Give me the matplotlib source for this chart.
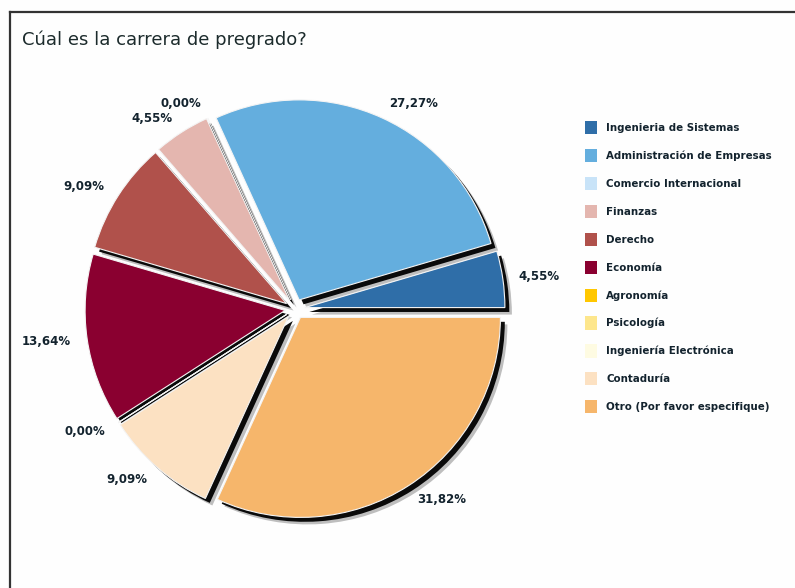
import numpy as np
import matplotlib.pyplot as plt
from matplotlib.patches import Patch
from matplotlib.lines import Line2D

title = "Cúal es la carrera de pregrado?"
categories = [
    "Ingenieria de Sistemas",
    "Administración de Empresas",
    "Comercio Internacional",
    "Finanzas",
    "Derecho",
    "Economía",
    "Agronomía",
    "Psicología",
    "Ingeniería Electrónica",
    "Contaduría",
    "Otro (Por favor especifique)",
]
percentages = [4.55, 27.27, 0.00, 4.55, 9.09, 13.64, 0.00, 0.00, 0.00, 9.09, 31.82]
colors = [
    "#2F6EA8", "#64AEDE", "#C8E3F8", "#E4B6AF", "#B0514B", "#8A0030",
    "#FFC700", "#FDE68C", "#FEFBE2", "#FCE1C2", "#F6B66B",
]

text_color = "#13232e"

W, H = 795, 588
fig = plt.figure(figsize=(W / 100, H / 100), dpi=100)
fig.patch.set_facecolor("#fefefe")

# frame lines along the top and left edges
fig.add_artist(Line2D([10 / W, 10 / W], [0, 1 - 12 / H], color="#333333", lw=1.6))
fig.add_artist(Line2D([10 / W, 1], [1 - 12 / H, 1 - 12 / H], color="#333333", lw=1.6))

fig.text(22 / W, 1 - 40 / H, title, fontsize=13, color="#1c2b2c",
         ha="left", va="center", family="DejaVu Sans")

# pie centred at (295, 309) px with a 200 px radius
cx, cy, R, lim = 295, 309, 200, 1.2
ax = fig.add_axes([(cx - R * lim) / W, 1 - (cy + R * lim) / H,
                   2 * R * lim / W, 2 * R * lim / H])
ax.set_aspect("equal")

explode = [0.05] * len(percentages)

# soft dark shadow beneath the slices
for off, alpha in [(0.035, 0.25), (0.022, 0.95)]:
    ax.pie(percentages, explode=explode, startangle=0, counterclock=True,
           colors=["black"] * len(percentages), center=(off, -off),
           wedgeprops=dict(linewidth=0, alpha=alpha))

wedges, _ = ax.pie(percentages, explode=explode, startangle=0, counterclock=True,
                   colors=colors,
                   wedgeprops=dict(linewidth=0.8, edgecolor="#f4f4f4"))

# percentage labels placed around the pie; labels that fall on the same
# angle are shown only once
total = sum(percentages)
cum = 0.0
groups = []
for v in percentages:
    ang = (cum + v / 2) / total * 360
    cum += v
    if groups and abs(groups[-1][0] - ang) < 1e-6:
        continue
    groups.append((ang, v))

for ang, v in groups:
    mid = np.deg2rad(ang)
    d = 1.13
    x, y = d * np.cos(mid), d * np.sin(mid)
    ha = "left" if x > 0.05 else ("right" if x < -0.05 else "center")
    ax.text(x, y, f"{v:.2f}%".replace(".", ","), ha=ha, va="center",
            fontsize=8.5, fontweight="bold", color=text_color)

ax.set_xlim(-lim, lim)
ax.set_ylim(-lim, lim)
ax.axis("off")

handles = [Patch(facecolor=c, edgecolor="none") for c in colors]
leg = fig.legend(handles, categories, loc="upper left",
                 bbox_to_anchor=(581 / W, 1 - 117 / H),
                 frameon=False, fontsize=7.4, handlelength=1.12, handleheight=1.6,
                 handletextpad=0.92, labelspacing=1.43, borderaxespad=0)
for t in leg.get_texts():
    t.set_fontweight("bold")
    t.set_color(text_color)

fig.savefig("out.png", dpi=100, facecolor=fig.get_facecolor())
